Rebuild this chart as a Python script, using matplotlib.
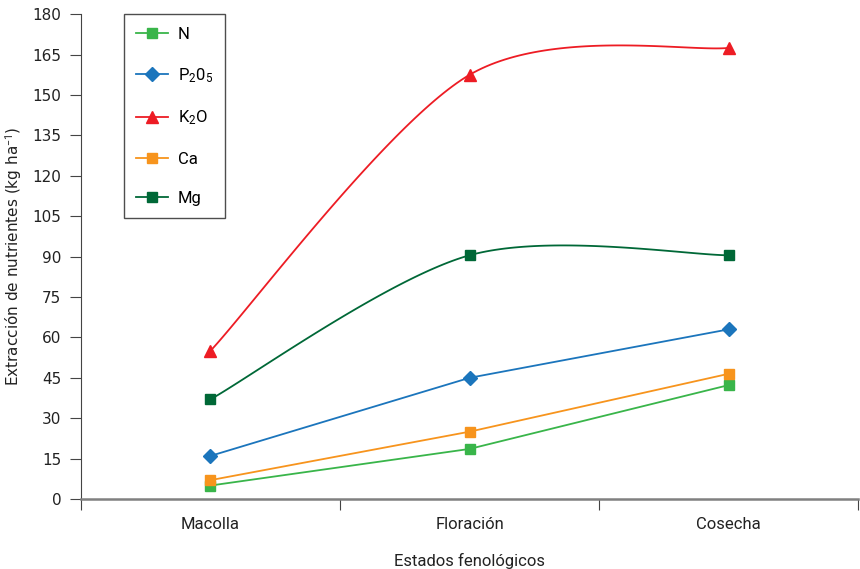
import numpy as np
import matplotlib
matplotlib.use("Agg")
import matplotlib.pyplot as plt

plt.rcParams["mathtext.fontset"] = "custom"
plt.rcParams["mathtext.rm"] = "Roboto"
plt.rcParams["mathtext.it"] = "Roboto"

# data
estados = ["Macolla", "Floración", "Cosecha"]
N = [5, 18.6, 42.3]
P2O5 = [16, 45, 63]
K2O = [55, 157.5, 167.5]
Ca = [7, 25, 46.5]
Mg = [37, 90.5, 90.5]

y_ticks = [0, 15, 30, 45, 60, 75, 90, 105, 120, 135, 150, 165, 180]


def smooth(xs, ys, n=60):
    # bezier smoothing through the points (like a spreadsheet "smoothed line")
    xs = np.asarray(xs, float)
    ys = np.asarray(ys, float)
    px = np.concatenate([[xs[0]], xs, [xs[-1]]])
    py = np.concatenate([[ys[0]], ys, [ys[-1]]])
    outx, outy = [], []
    t = np.linspace(0, 1, n)
    k = 1 / 6.5
    for i in range(1, len(px) - 2):
        p0 = np.array([px[i], py[i]])
        p3 = np.array([px[i + 1], py[i + 1]])
        c1 = p0 + (np.array([px[i + 1], py[i + 1]]) - np.array([px[i - 1], py[i - 1]])) * k
        c2 = p3 - (np.array([px[i + 2], py[i + 2]]) - np.array([px[i], py[i]])) * k
        b = ((1 - t) ** 3)[:, None] * p0 + (3 * (1 - t) ** 2 * t)[:, None] * c1 \
            + (3 * (1 - t) * t ** 2)[:, None] * c2 + (t ** 3)[:, None] * p3
        outx.extend(b[:, 0])
        outy.extend(b[:, 1])
    return outx, outy


fig = plt.figure(figsize=(8.6, 5.69), dpi=100)
ax = fig.add_axes([0.094, 0.123, 0.904, 0.852])

x = np.arange(len(estados)) + 0.5
lw = 1.3

ax.plot(x, N, color="#39b54a", lw=lw, marker="s", ms=7, label="N")
ax.plot(x, P2O5, color="#1b75bc", lw=lw, marker="D", ms=7, label="P$_2$0$_5$")

sx, sy = smooth(x, K2O)
ax.plot(sx, sy, color="#ed1c24", lw=lw)
ax.plot(x, K2O, color="#ed1c24", lw=0, marker="^", ms=8)
ax.plot([], [], color="#ed1c24", lw=lw, marker="^", ms=8, label="K$_2$O")

ax.plot(x, Ca, color="#f7941d", lw=lw, marker="s", ms=7, label="Ca")

sx, sy = smooth(x, Mg)
ax.plot(sx, sy, color="#006837", lw=lw)
ax.plot(x, Mg, color="#006837", lw=0, marker="s", ms=7)
ax.plot([], [], color="#006837", lw=lw, marker="s", ms=7, label="Mg")

ax.set_xlim(0, 3)
ax.set_ylim(0, 180)
ax.set_yticks(y_ticks)
ax.set_xticks([0, 1, 2, 3])
ax.set_xticklabels([])
ax.set_xticks(x, minor=True)
ax.set_xticklabels(estados, minor=True, fontsize=12, family="Roboto", color="#222222")
ax.tick_params(axis="x", which="minor", length=0, pad=13)
ax.tick_params(axis="x", which="major", length=8, width=0.8, color="#444444")
ax.tick_params(axis="y", length=8, width=0.8, color="#444444", labelsize=11, labelcolor="#222222", pad=6)

for s in ["top", "right"]:
    ax.spines[s].set_visible(False)
ax.spines["bottom"].set_color("#808080")
ax.spines["bottom"].set_linewidth(1.8)
ax.spines["left"].set_color("#444444")
ax.spines["left"].set_linewidth(0.8)

ax.set_ylabel("Extracción de nutrientes (kg ha$^{-1}$)", fontsize=11, color="#222222", labelpad=6)
ax.set_xlabel("Estados fenológicos", fontsize=12, family="Roboto", color="#222222", labelpad=15)

leg = ax.legend(loc="upper left", bbox_to_anchor=(0.055, 1.0), borderaxespad=0,
                frameon=True, fancybox=False, edgecolor="#222222", labelspacing=1.45,
                handlelength=1.9, handletextpad=0.6, borderpad=0.75,
                prop={"family": "Roboto", "size": 12})
leg.get_frame().set_linewidth(1.0)

fig.savefig("out.png", dpi=100)
